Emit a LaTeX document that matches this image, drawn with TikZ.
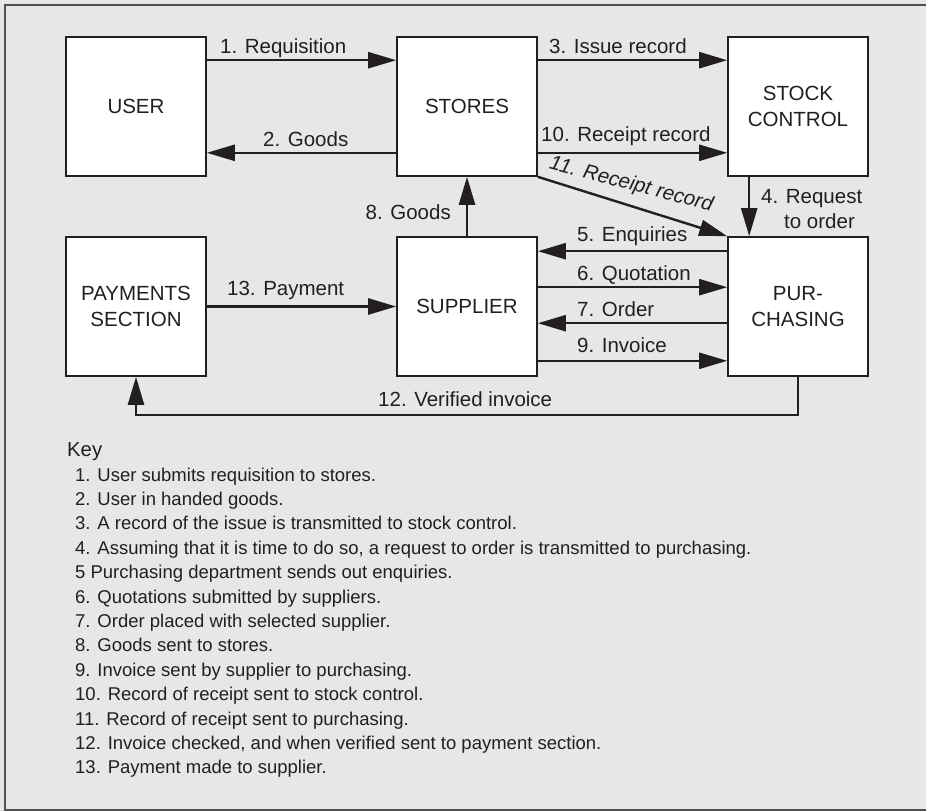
\documentclass[tikz,border=0pt]{standalone}
\usepackage{fontspec}
\setmainfont{Liberation Sans}
\usetikzlibrary{arrows.meta}
\definecolor{bgc}{HTML}{E6E7E8}
\definecolor{ink}{HTML}{231F20}
\definecolor{framec}{HTML}{505050}
\tikzset{
  box/.style={draw=ink, fill=white, line width=1.6pt, minimum width=140pt, minimum height=139pt,
    inner sep=0pt, align=center, text=ink, font=\fontsize{20.5}{26.5}\selectfont},
  arr/.style={draw=ink, line width=2.4pt, -{Triangle[length=28pt,width=16pt]}},
  lbl/.style={text=ink, inner sep=0pt, font=\fontsize{20.5}{26.5}\selectfont},
  keyline/.style={text=ink, inner sep=0pt, anchor=base west, font=\fontsize{18.5}{24}\selectfont},
}
\begin{document}
\begin{tikzpicture}[x=1pt,y=-1pt]
\useasboundingbox (0,0) rectangle (926,811);
\fill[bgc] (0,0) rectangle (926,811);
\draw[framec, line width=2pt] (932,5) -- (5,5) -- (5,810) -- (932,810);

\node[box] (user) at (136,106.5) {USER};
\node[box] (stores) at (467,106.5) {STORES};
\node[box] (stock) at (798,106.5) {STOCK\\CONTROL};
\node[box] (pay) at (136,306.5) {PAYMENTS\\SECTION};
\node[box] (sup) at (467,306.5) {SUPPLIER};
\node[box] (pur) at (798,306.5) {PUR-\\CHASING};

% arrows
\draw[arr] ([yshift=-24pt]user.north east) -- ([yshift=-24pt]stores.north west);
\draw[arr] ([yshift=24pt]stores.south west) -- ([yshift=24pt]user.south east);
\draw[arr] ([yshift=-24pt]stores.north east) -- ([yshift=-24pt]stock.north west);
\draw[arr] ([yshift=24pt]stores.south east) -- ([yshift=24pt]stock.south west);
\draw[arr] (stores.south east) -- (pur.north west);
\draw[arr] ([xshift=22pt]stock.south west) -- ([xshift=22pt]pur.north west);
\draw[arr] (sup.north) -- (stores.south);
\draw[arr] ([yshift=-15pt]pur.north west) -- ([yshift=-15pt]sup.north east);
\draw[arr] ([yshift=-51pt]sup.north east) -- ([yshift=-51pt]pur.north west);
\draw[arr] ([yshift=-87pt]pur.north west) -- ([yshift=-87pt]sup.north east);
\draw[arr] ([yshift=16pt]sup.south east) -- ([yshift=16pt]pur.south west);
\draw[arr] (pay.east) -- (sup.west);
\draw[arr] (pur.south) -- ++(0,38) -| (pay.south);

% labels
\node[lbl, anchor=base west] (l1) at (220,53) {1. Requisition};
\node[lbl, anchor=base west] (l2) at (263,146) {2. Goods};
\node[lbl, anchor=base west] (l3) at (549,53) {3. Issue record};
\node[lbl, anchor=base west] (l10) at (541,141) {10. Receipt record};
\node[lbl, anchor=base, rotate=-14.5, font=\fontsize{20.5}{26.5}\selectfont\itshape] (l11) at (630,190) {11. Receipt record};
\node[lbl, anchor=base west] (l4a) at (761,203) {4. Request};
\node[lbl, anchor=base west] (l4b) at (784,228) {to order};
\node[lbl, anchor=base east] (l8) at (451,219) {8. Goods};
\node[lbl, anchor=base west] (l5) at (577,241.5) {5. Enquiries};
\node[lbl, anchor=base west] (l6) at (577,280) {6. Quotation};
\node[lbl, anchor=base west] (l7) at (577,316.5) {7. Order};
\node[lbl, anchor=base west] (l9) at (577,352.5) {9. Invoice};
\node[lbl, anchor=base west] (l13) at (227,295) {13. Payment};
\node[lbl, anchor=base west] (l12) at (378,406.5) {12. Verified invoice};

% key
\node[text=ink, inner sep=0pt, anchor=base west, font=\fontsize{20.3}{24}\selectfont] (key) at (67,456) {Key};
\node[keyline] (k1) at (75,481) {1. User submits requisition to stores.};
\node[keyline] (k2) at (75,505.4) {2. User in handed goods.};
\node[keyline] (k3) at (75,529.8) {3. A record of the issue is transmitted to stock control.};
\node[keyline] (k4) at (75,554.2) {4. Assuming that it is time to do so, a request to order is transmitted to purchasing.};
\node[keyline] (k5) at (75,578.6) {5 Purchasing department sends out enquiries.};
\node[keyline] (k6) at (75,603) {6. Quotations submitted by suppliers.};
\node[keyline] (k7) at (75,627.4) {7. Order placed with selected supplier.};
\node[keyline] (k8) at (75,651.8) {8. Goods sent to stores.};
\node[keyline] (k9) at (75,676.2) {9. Invoice sent by supplier to purchasing.};
\node[keyline] (k10) at (75,700.6) {10. Record of receipt sent to stock control.};
\node[keyline] (k11) at (75,725) {11. Record of receipt sent to purchasing.};
\node[keyline] (k12) at (75,749.4) {12. Invoice checked, and when verified sent to payment section.};
\node[keyline] (k13) at (75,773.8) {13. Payment made to supplier.};
\end{tikzpicture}
\end{document}
